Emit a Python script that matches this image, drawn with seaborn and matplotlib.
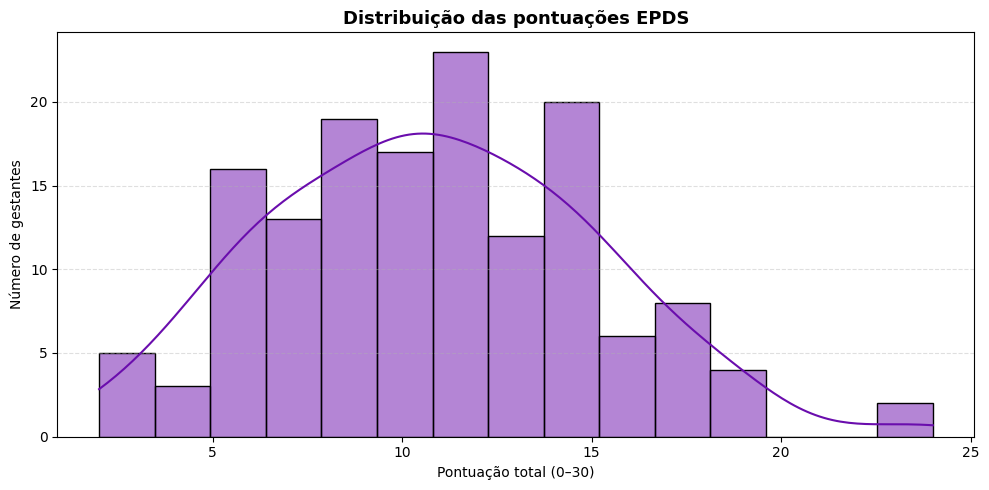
import numpy as np
import pandas as pd
import seaborn as sns
from matplotlib import pyplot as plt

# EPDS total scores and how many pregnant women got each score
scores = [2, 3, 4, 5, 6, 7, 8, 9, 10, 11, 12, 13, 14, 15, 16, 17, 18, 19, 23, 24]
counts = [2, 3, 3, 9, 7, 13, 9, 10, 17, 11, 12, 12, 9, 11, 6, 4, 4, 4, 1, 1]

df = pd.DataFrame({"epds": np.repeat(scores, counts)})

plt.figure(figsize=(10, 5))
ax = sns.histplot(data=df, x="epds", bins=15, kde=True, color="#6a0dad",
                  edgecolor="black", alpha=0.5)

plt.title("Distribuição das pontuações EPDS", fontsize=13, fontweight="bold")
plt.xlabel("Pontuação total (0–30)")
plt.ylabel("Número de gestantes")
ax.grid(axis="y", linestyle="--", alpha=0.4)

plt.tight_layout()
plt.savefig("out.png", dpi=100, bbox_inches="tight")
